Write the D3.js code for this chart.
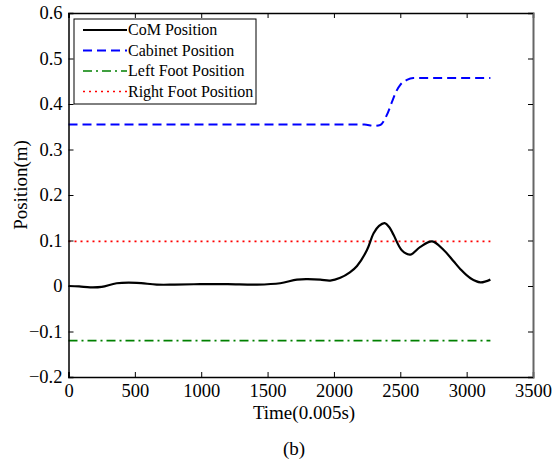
<!DOCTYPE html>
<html>
<head>
<meta charset="utf-8">
<script src="https://cdn.jsdelivr.net/npm/d3@7"></script>
<style>
  body { margin: 0; background: #fff; }
</style>
</head>
<body>
<svg id="chart"></svg>
<script>
// chart size
const width = 558;
const height = 461;
const margin = { top: 13, right: 25, bottom: 84, left: 68.5 };

// data
const comTime = [0, 80, 163, 250, 363, 514, 665, 800, 992, 1200, 1420, 1595, 1721, 1800, 1897, 1972, 2048, 2120, 2174, 2249, 2299, 2340, 2382, 2420, 2450, 2513, 2576, 2651, 2740, 2827, 2900, 2953, 3029, 3104, 3179];
const comPos = [0, -0.001, -0.003, -0.002, 0.006, 0.007, 0.003, 0.003, 0.004, 0.004, 0.003, 0.006, 0.014, 0.015, 0.014, 0.012, 0.018, 0.030, 0.044, 0.079, 0.116, 0.132, 0.138, 0.128, 0.112, 0.078, 0.069, 0.086, 0.098, 0.079, 0.055, 0.037, 0.017, 0.008, 0.014];

const cabinetTime = [0, 2230, 2300, 2349, 2399, 2438, 2470, 2500, 2550, 2598, 3179];
const cabinetPos = [0.355, 0.355, 0.352, 0.354, 0.376, 0.405, 0.428, 0.442, 0.453, 0.457, 0.457];

const footTime = [0, 3179];
const leftFootPos = [-0.12, -0.12];
const rightFootPos = [0.098, 0.098];

const xTicks = [0, 500, 1000, 1500, 2000, 2500, 3000, 3500];
const yTicks = [-0.2, -0.1, 0, 0.1, 0.2, 0.3, 0.4, 0.5, 0.6];

const seriesNames = ["CoM Position", "Cabinet Position", "Left Foot Position", "Right Foot Position"];

const serif = '"Liberation Serif", "Times New Roman", serif';

const svg = d3.select("#chart")
    .attr("width", width)
    .attr("height", height);

// scales
const xScale = d3.scaleLinear()
    .domain([0, 3500])
    .range([margin.left, width - margin.right]);

const yScale = d3.scaleLinear()
    .domain([-0.2, 0.6])
    .range([height - margin.bottom, margin.top]);

const fmtY = d => d === 0 ? "0" : d3.format(".1f")(d);

// lines
const line = d3.line()
    .x(d => xScale(d[0]))
    .y(d => yScale(d[1]));

const series = [
    { pts: d3.zip(footTime, rightFootPos), color: "#ff0000", dash: "2,4", w: 1.6, curve: d3.curveLinear },
    { pts: d3.zip(footTime, leftFootPos), color: "#008000", dash: "9,4,2,4", w: 1.6, curve: d3.curveLinear },
    { pts: d3.zip(cabinetTime, cabinetPos), color: "#0000ff", dash: "9,5", w: 2, curve: d3.curveMonotoneX },
    { pts: d3.zip(comTime, comPos), color: "#000", dash: null, w: 2.2, curve: d3.curveCatmullRom }
];

series.forEach(s => {
    svg.append("path")
        .attr("d", line.curve(s.curve)(s.pts))
        .attr("fill", "none")
        .attr("stroke", s.color)
        .attr("stroke-width", s.w)
        .attr("stroke-dasharray", s.dash);
});

// axes (MATLAB box style, ticks inward)
const xAxis = d3.axisBottom(xScale).tickValues(xTicks).tickSize(-5).tickPadding(7).tickFormat(d3.format("d"));
const yAxis = d3.axisLeft(yScale).tickValues(yTicks).tickSize(-5).tickPadding(6).tickFormat(fmtY);

svg.append("g")
    .attr("transform", `translate(0, ${height - margin.bottom})`)
    .call(xAxis);
svg.append("g")
    .attr("transform", `translate(${margin.left}, 0)`)
    .call(yAxis);

svg.append("g")
    .attr("transform", `translate(0, ${margin.top})`)
    .call(d3.axisTop(xScale).tickValues(xTicks).tickSize(-5).tickFormat(""));
svg.append("g")
    .attr("class", "right")
    .attr("transform", `translate(${width - margin.right}, 0)`)
    .call(d3.axisRight(yScale).tickValues(yTicks).tickSize(-5).tickFormat(""));

svg.selectAll(".domain").attr("stroke", "#000").attr("stroke-width", 1.5);
svg.selectAll(".tick line").attr("stroke", "#000").attr("stroke-width", 1);
svg.selectAll(".right .domain").attr("stroke", "#666").attr("stroke-width", 2);
svg.selectAll(".tick text").style("font-size", "18.5px").attr("fill", "#000");

// axis labels
svg.append("text")
    .attr("x", 304)
    .attr("y", 419)
    .attr("text-anchor", "middle")
    .style("font-size", "19px")
    .text("Time(0.005s)");

svg.append("text")
    .attr("transform", "translate(27, 185) rotate(-90)")
    .attr("text-anchor", "middle")
    .style("font-size", "19px")
    .text("Position(m)");

svg.append("text")
    .attr("x", 294)
    .attr("y", 455)
    .attr("text-anchor", "middle")
    .style("font-size", "19px")
    .text("(b)");

// legend
const legend = svg.append("g").attr("transform", "translate(74, 19)");
legend.append("rect")
    .attr("width", 182)
    .attr("height", 85)
    .attr("fill", "#fff")
    .attr("stroke", "#000")
    .attr("stroke-width", 1);

const legendStyles = [series[3], series[2], series[1], series[0]];
seriesNames.forEach((name, i) => {
    const yy = 11 + i * 20.5;
    legend.append("line")
        .attr("x1", 9).attr("x2", 53)
        .attr("y1", yy).attr("y2", yy)
        .attr("stroke", legendStyles[i].color)
        .attr("stroke-width", legendStyles[i].w)
        .attr("stroke-dasharray", legendStyles[i].dash);
    legend.append("text")
        .attr("x", 54)
        .attr("y", yy + 5)
        .style("font-size", "16px")
        .text(name);
});

// serif everywhere, like the MATLAB figure
svg.selectAll("g").attr("font-family", null);
svg.selectAll("text").style("font-family", serif).attr("fill", "#000");
</script>
</body>
</html>
